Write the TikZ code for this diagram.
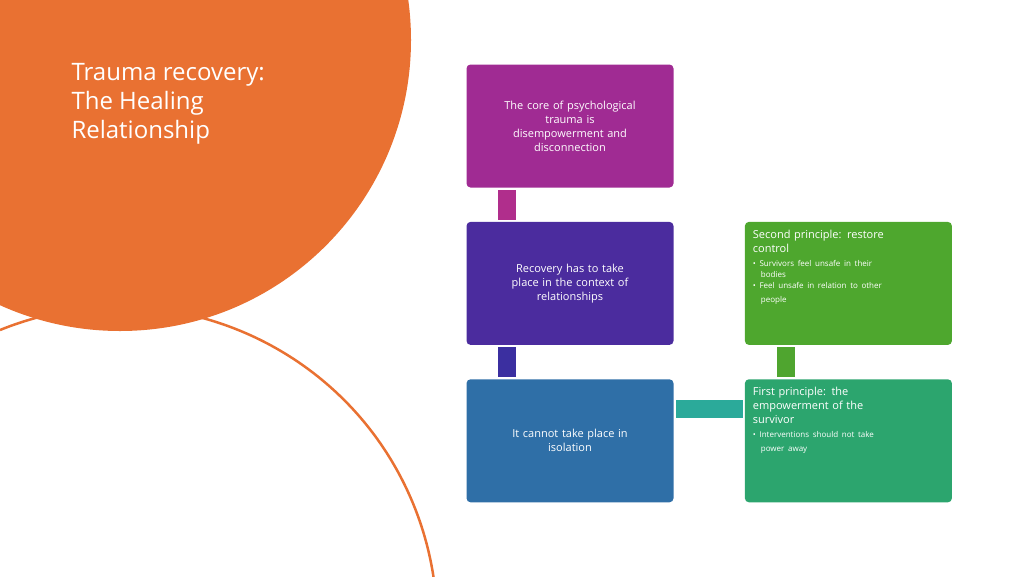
\documentclass[tikz,border=0pt]{standalone}
\usepackage{fontspec}
\setmainfont{Open Sans}
\usetikzlibrary{positioning}
\definecolor{orangebg}{HTML}{E97132}
\definecolor{boxone}{HTML}{A02B93}
\definecolor{boxtwo}{HTML}{4B2C9E}
\definecolor{boxthree}{HTML}{2F6FA7}
\definecolor{boxfour}{HTML}{2CA56E}
\definecolor{boxfive}{HTML}{4EA72E}
\definecolor{linkone}{HTML}{B02E8C}
\definecolor{linktwo}{HTML}{3B2FA0}
\definecolor{linkthree}{HTML}{2BAA9A}
\definecolor{linkfour}{HTML}{4FA52F}

\begin{document}
\begin{tikzpicture}[x=1pt, y=-1pt, node distance = 34pt and 71pt,
                    box/.style = {rectangle, rounded corners = 4pt,
                                  minimum width = 207pt,
                                  minimum height = 123pt,
                                  text = white, font = \fontsize{11}{14}\selectfont,
                                  align = center, text width = 190pt},
                    sidebox/.style = {box, align = left, anchor = north west,
                                      inner sep = 8pt}]

\useasboundingbox (0,0) rectangle (1024,576);
% orange disc
\fill[orangebg] (120,40) circle (291);
\draw[orangebg, line width = 2.5pt] (0,330) arc[start angle = 248, end angle = 370, radius = 318];
\node[anchor = north west, text = white, align = left,
      font = \fontsize{24}{29}\selectfont] (title) at (68,60)
      {Trauma recovery:\\The Healing\\Relationship};

% boxes
\node[box, fill = boxone] (core) at (570,126)
      {The core of psychological\\trauma is\\disempowerment and\\disconnection};
\node[box, fill = boxtwo] (relate) [below = of core]
      {Recovery has to take\\place in the context of\\relationships\\[10pt]};
\node[box, fill = boxthree] (isol) [below = of relate]
      {It cannot take place in\\isolation\\[10pt]};
\node[box, fill = boxfour] (first) [right = of isol] {};
\node[box, fill = boxfive] (second) [right = of relate] {};

\node[anchor = north west, text = white, text width = 190pt, align = left,
      font = \fontsize{11}{14}\selectfont, inner sep = 0pt] at ([shift = {(8,8)}]first.north west)
      {First principle: the\\empowerment of the\\survivor\\[3pt]
       \fontsize{8}{11}\selectfont \textbullet\ Interventions should not take\\
       \hspace*{8pt}power away};
\node[anchor = north west, text = white, text width = 190pt, align = left,
      font = \fontsize{11}{14}\selectfont, inner sep = 0pt] at ([shift = {(8,8)}]second.north west)
      {Second principle: restore\\control\\[3pt]
       \fontsize{8}{11}\selectfont \textbullet\ Survivors feel unsafe in their\\
       \hspace*{8pt}bodies\\
       \textbullet\ Feel unsafe in relation to other\\
       \hspace*{8pt}people};

% links
\fill[linkone] ([shift = {(32,2)}]core.south west) rectangle ([shift = {(50,-2)}]relate.north west);
\fill[linktwo] ([shift = {(32,2)}]relate.south west) rectangle ([shift = {(50,-2)}]isol.north west);
\fill[linkfour] ([shift = {(32,2)}]second.south west) rectangle ([shift = {(50,-2)}]first.north west);
\fill[linkthree] ([shift = {(2,21)}]isol.north east) rectangle ([shift = {(-2,39)}]first.north west);
\end{tikzpicture}
\end{document}
